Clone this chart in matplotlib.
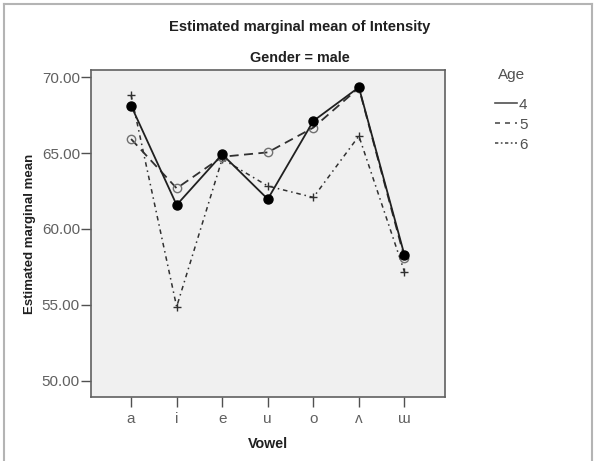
import matplotlib.pyplot as plt
from matplotlib.lines import Line2D

plt.rcParams['font.family'] = ['Liberation Sans', 'DejaVu Sans']

# Dane
vowels = ['a', 'i', 'e', 'u', 'o', 'ʌ', 'ɯ']
age4 = [68.13, 61.58, 64.92, 61.97, 67.12, 69.34, 58.28]
age5 = [65.93, 62.68, 64.76, 65.05, 66.68, 69.30, 58.10]
age6 = [68.83, 54.87, 64.62, 62.83, 62.08, 66.13, 57.18]
y_ticks = [50, 55, 60, 65, 70]

W, H = 598, 461
fig = plt.figure(figsize=(W / 100, H / 100), dpi=100)

# ramka wokół całego rysunku (bez dolnej krawędzi)
frame_col = '#b4b4b4'
fig.add_artist(Line2D([4 / W, 4 / W], [0, 1 - 4 / H], color=frame_col, lw=1.5, transform=fig.transFigure))
fig.add_artist(Line2D([592 / W, 592 / W], [0, 1 - 4 / H], color=frame_col, lw=1.5, transform=fig.transFigure))
fig.add_artist(Line2D([4 / W, 592 / W], [1 - 4 / H, 1 - 4 / H], color=frame_col, lw=1.5, transform=fig.transFigure))

ax = fig.add_axes([91 / W, 1 - 397 / H, (445 - 91) / W, (397 - 70) / H])
ax.set_facecolor('#f0f0f0')
x = list(range(len(vowels)))

ax.plot(x, age6, color='#303030', lw=1.1, dashes=(3, 2.5, 1, 2.5), marker='+', ms=6, mew=1.0, mec='#303030')
ax.plot(x, age5, color='#303030', lw=1.3, dashes=(5, 3), marker='o', ms=6, mfc='none', mec='#707070', mew=1.0)
ax.plot(x, age4, color='#202020', lw=1.3, marker='o', ms=6.5, mfc='black', mec='black')

ax.set_xlim(-0.88, 6.89)
ax.set_ylim(48.92, 70.48)
ax.set_xticks(x)
ax.set_xticklabels(vowels)
ax.set_yticks(y_ticks)
ax.set_yticklabels([f'{v:.2f}' for v in y_ticks])
ax.tick_params(direction='out', length=7, width=1.0, color='#505050', labelcolor='#606060', labelsize=11, pad=1)
ax.tick_params(axis='x', pad=4)
for s in ax.spines.values():
    s.set_color('#606060')
    s.set_linewidth(1.2)

ax.set_xlabel('Vowel', fontsize=10.3, fontweight='bold', color='#202020', labelpad=8)
ax.set_ylabel('Estimated marginal mean', fontsize=9.5, fontweight='bold', color='#202020', labelpad=4)

fig.text(300 / W, 1 - 27 / H, 'Estimated marginal mean of Intensity', ha='center', va='center',
         fontsize=10.6, fontweight='bold', color='#202020')
fig.text(300 / W, 1 - 58 / H, 'Gender = male', ha='center', va='center',
         fontsize=10.4, fontweight='bold', color='#202020')

# legenda narysowana ręcznie
fig.text(512 / W, 1 - 75 / H, 'Age', ha='center', va='center', fontsize=11, color='#505050')
leg_styles = [('4', None), ('5', (3, 3)), ('6', (2, 1.5, 1, 1.5))]
for i, (lab, dash) in enumerate(leg_styles):
    yy = 1 - (103 + 20 * i) / H
    ln = Line2D([495 / W, 517 / W], [yy, yy], color='#505050', lw=1.2, transform=fig.transFigure)
    if dash:
        ln.set_dashes(dash)
    fig.add_artist(ln)
    fig.text(519 / W, yy - 2 / H, lab, ha='left', va='center', fontsize=11, color='#505050')

fig.savefig('out.png', dpi=100)
